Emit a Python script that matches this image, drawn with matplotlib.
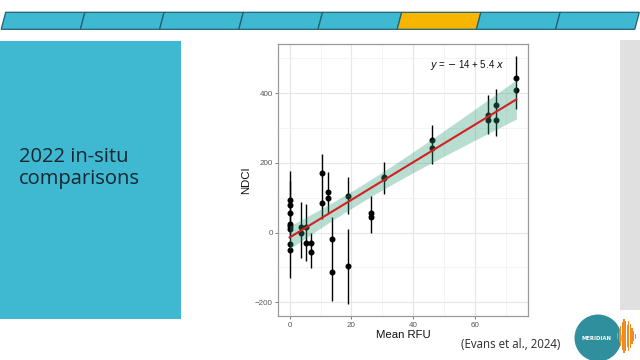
import numpy as np
import matplotlib
matplotlib.use("Agg")
import matplotlib.pyplot as plt
from matplotlib.patches import Polygon, Rectangle, Circle

# ---------------- data ----------------
pt_x = [0, 0, 0, 0, 0, 0, 0, 0,
        3.6, 3.6, 5.4, 5.4, 7.0, 7.0, 10.5, 10.5, 12.3, 12.3, 13.6, 13.6,
        18.8, 18.8, 26.4, 26.4, 30.5, 30.5, 46.2, 46.2, 64.1, 64.1,
        66.7, 66.7, 73.4, 73.4]
pt_y = [94, 80, 56, 26, 19, 9.5, -32, -49,
        16, -1, 15, -30, -30, -57, 170, 86, 117, 100, -19, -112,
        105, -96, 56, 46, 161, 158, 267, 244, 339, 322,
        366, 323, 445, 408]

err_x = [0, 0, 3.6, 5.4, 7.0, 10.5, 12.3, 13.6, 18.8, 18.8, 26.4, 30.5,
         46.2, 64.1, 66.7, 73.4]
err_lo = [-10, -131, -73, -83, -103, 38, 57, -195, 52, -204, 0, 112,
          198, 283, 278, 354]
err_hi = [178, 148, 88, 81, -2, 226, 174, 46, 161, 10, 104, 203,
          310, 395, 411, 506]

intercept = -14
slope = 5.4
eq_label = r"$\it{y}$ = $-$ 14 + 5.4 $\it{x}$"
x_label = "Mean RFU"
y_label = "NDCI"
x_ticks = [0, 20, 40, 60]
y_ticks = [-200, 0, 200, 400]

slide_title = "2022 in-situ\ncomparisons"
citation = "(Evans et al., 2024)"
n_segments = 8
active_segment = 5

# ---------------- figure ----------------
W, H = 640, 360
fig = plt.figure(figsize=(6.4, 3.6), dpi=100)
fig.patch.set_facecolor("white")

bg = fig.add_axes([0, 0, 1, 1], zorder=0)
bg.set_xlim(0, W)
bg.set_ylim(H, 0)
bg.axis("off")

teal = "#3fb8d2"
edge = "#1f6272"
yellow = "#f7b500"

# progress bar
seg_w = 79.2
for i in range(n_segments):
    x0 = 5.7 + i * seg_w
    poly = Polygon([(x0, 12.3), (x0 + seg_w, 12.3), (x0 + seg_w - 4.5, 29.3), (x0 - 4.5, 29.3)],
                   closed=True, facecolor=yellow if i == active_segment else teal,
                   edgecolor=edge, lw=0.9)
    bg.add_patch(poly)

# left teal box
bg.add_patch(Rectangle((0, 40.5), 181, 278.5, facecolor=teal, edgecolor="none"))
bg.text(19, 168, slide_title, fontsize=14.5, family="Open Sans", color="#17262e",
        va="center", ha="left", linespacing=1.1)

# right grey strip
bg.add_patch(Rectangle((620, 40), 20, 270, facecolor="#e0e0e0", edgecolor="none"))

# citation
bg.text(511, 344.5, citation, fontsize=8.3, family="Open Sans", color="#2b2b2b",
        ha="center", va="center")

# logo
bg.add_patch(Circle((598, 338), 23.5, facecolor="#2f8f9c", edgecolor="none"))
bg.text(596, 338, "MERIDIAN", fontsize=3.8, color="white", ha="center", va="center",
        family="DejaVu Sans", weight="bold")
wave_h = [6, 12, 20, 28, 34, 30, 22, 30, 24, 16, 10, 5]
for k, hh in enumerate(wave_h):
    bg.add_patch(Rectangle((617 + k * 1.6, 336 - hh / 2), 1.1, hh,
                           facecolor="#f28a22", edgecolor="none"))

# ---------------- chart ----------------
ax = fig.add_axes([278.3 / W, 1 - 316 / H, (527.7 - 278.3) / W, (316 - 44) / H], zorder=2)
ax.set_facecolor("white")

xs = np.array(pt_x, dtype=float)
ys = np.array(pt_y, dtype=float)
xmin, xmax = xs.min(), xs.max()
xr = xmax - xmin
ax.set_xlim(xmin - 0.05 * xr, xmax + 0.05 * xr)
ylo, yhi = min(err_lo), max(err_hi)
yr = yhi - ylo
ax.set_ylim(ylo - 0.05 * yr, yhi + 0.05 * yr)

ax.set_xticks(x_ticks)
ax.set_yticks(y_ticks)
ax.set_xticks([10, 30, 50, 70], minor=True)
ax.set_yticks([-100, 100, 300, 500], minor=True)
ax.grid(which="major", color="#e6e6e6", lw=0.8, zorder=0)
ax.grid(which="minor", color="#f2f2f2", lw=0.6, zorder=0)
ax.set_axisbelow(True)
ax.tick_params(which="minor", length=0)
ax.tick_params(which="major", length=2.5, width=0.6, color="#666666",
               labelsize=5.8, labelcolor="#555555", pad=1.5)
for lab in ax.get_xticklabels() + ax.get_yticklabels():
    lab.set_family("Liberation Sans")
for s in ax.spines.values():
    s.set_color("#9a9a9a")
    s.set_linewidth(0.9)

# error bars and points
ax.vlines(err_x, err_lo, err_hi, color="black", lw=1.0, zorder=3)
ax.plot(xs, ys, "o", color="black", ms=3.3, zorder=4)

# regression line with confidence band (drawn over the points, as in ggplot)
n = len(xs)
resid = ys - (intercept + slope * xs)
s = np.sqrt(np.sum(resid ** 2) / (n - 2))
xbar = xs.mean()
sxx = np.sum((xs - xbar) ** 2)
t = 2.037
gx = np.linspace(xmin, xmax, 100)
gy = intercept + slope * gx
hw = t * s * np.sqrt(1 / n + (gx - xbar) ** 2 / sxx)
ax.fill_between(gx, gy - hw, gy + hw, color="#2a9875", alpha=0.33, lw=0, zorder=5)
ax.plot(gx, gy, color="#d42020", lw=1.5, zorder=6)

ax.text(45.4, 482, eq_label, fontsize=7, family="Liberation Sans",
        ha="left", va="center", color="#111111", zorder=7)

ax.set_xlabel(x_label, fontsize=8.2, family="Liberation Sans", color="#111111", labelpad=1)
ax.set_ylabel(y_label, fontsize=8.2, family="Liberation Sans", color="#111111", labelpad=3)

fig.savefig("out.png", dpi=100)
